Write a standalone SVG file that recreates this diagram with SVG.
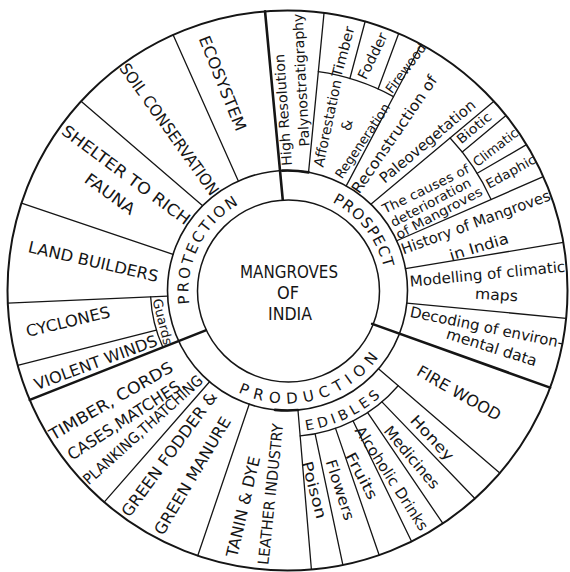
<svg xmlns="http://www.w3.org/2000/svg" width="570" height="572" viewBox="0 0 570 572">
<style>
.ln{stroke:#151515;stroke-width:1.3;fill:none;stroke-linecap:round}
.th{stroke:#151515;stroke-width:2.6;fill:none;stroke-linecap:round}
.c{stroke:#151515;fill:none}
text{font-family:"DejaVu Sans","Liberation Sans",sans-serif;fill:#151515}
.t{text-anchor:middle;dominant-baseline:central}
.r{font-size:15px}
</style>
<defs>
<path id="pPro" d="M 215.09,358.02 A 99 99 0 0 1 299.57,192.24"/>
<path id="pPros" d="M 256.91,196.34 A 99 99 0 0 1 371.45,342.96"/>
<path id="pProd" d="M 195.5,356.12 A 113 113 0 0 0 400.15,299.37"/>
<path id="pEd" d="M 207.13,406.35 A 141 141 0 0 0 428.02,302.17"/>
</defs>
<rect width="570" height="572" fill="#fff"/>
<g id="circles">
<circle class="c" cx="287.5" cy="290.5" r="280" stroke-width="2"/>
<circle class="c" cx="287.5" cy="290.5" r="120" stroke-width="1.6"/>
<circle class="c" cx="288.5" cy="291" r="91" stroke-width="1.5"/>
<path class="th" d="M 282.26,170.61 A 120 120 0 0 1 308.55,172.36"/>
<path class="th" d="M 297.96,410.04 A 120 120 0 0 1 274.96,409.84"/>
</g>
<g id="connectors">
<line class="th" x1="282.74" y1="199.63" x2="265.04" y2="11.4"/>
<line class="th" x1="372.17" y1="323.85" x2="550.1" y2="387.63"/>
<line class="th" x1="205.71" y1="330.39" x2="29.76" y2="399.9"/>
<line class="ln" x1="156.35" y1="330.1" x2="17.7" y2="365.3"/>
<line class="ln" x1="167.63" y1="296.15" x2="7.79" y2="303.2"/>
<line class="ln" x1="173.06" y1="254.42" x2="21.5" y2="203.06"/>
<line class="ln" x1="202.65" y1="205.65" x2="81.06" y2="101.33"/>
<line class="ln" x1="238.31" y1="181.05" x2="173.18" y2="34.92"/>
<path class="ln" d="M 162.88,347.31 A 137 137 0 0 1 150.65,296.9"/>
<line class="ln" x1="308.55" y1="172.36" x2="324.04" y2="12.9"/>
<path class="ln" d="M 318.33,71.7 A 221 221 0 0 1 393.49,96.62"/>
<line class="ln" x1="349.89" y1="78.5" x2="365.14" y2="21.48"/>
<line class="ln" x1="378.09" y1="88.93" x2="398.69" y2="33.52"/>
<line class="ln" x1="346.23" y1="185.85" x2="421.12" y2="44.44"/>
<line class="ln" x1="370.86" y1="204.18" x2="493.94" y2="101.33"/>
<path class="ln" d="M 450.1,137.95 A 223 223 0 0 1 491.1,199.45"/>
<line class="ln" x1="462.27" y1="151.99" x2="506.0" y2="115.44"/>
<line class="ln" x1="477.23" y1="173.31" x2="526.48" y2="144.62"/>
<line class="ln" x1="396.7" y1="240.74" x2="543.28" y2="176.62"/>
<line class="ln" x1="405.5" y1="268.64" x2="563.33" y2="242.37"/>
<line class="ln" x1="406.84" y1="303.04" x2="566.12" y2="318.3"/>
<line class="ln" x1="378.47" y1="368.75" x2="499.77" y2="473.09"/>
<path class="ln" d="M 398.18,385.71 A 146 146 0 0 1 300.15,435.95"/>
<line class="ln" x1="381.93" y1="401.85" x2="474.85" y2="498.57"/>
<line class="ln" x1="367.65" y1="412.53" x2="442.84" y2="523.46"/>
<line class="ln" x1="353.1" y1="420.94" x2="411.57" y2="541.52"/>
<line class="ln" x1="335.52" y1="428.38" x2="379.12" y2="555.07"/>
<line class="ln" x1="315.11" y1="433.87" x2="342.86" y2="564.98"/>
<line class="ln" x1="297.96" y1="410.04" x2="311.41" y2="569.46"/>
<line class="ln" x1="249.22" y1="404.24" x2="197.73" y2="555.72"/>
<line class="ln" x1="209.57" y1="381.75" x2="104.18" y2="502.15"/>
</g>
<g id="center">
<text class="t" x="289" y="272" font-size="17" textLength="98" lengthAdjust="spacingAndGlyphs">MANGROVES</text>
<text class="t" x="288" y="293" font-size="17" textLength="22" lengthAdjust="spacingAndGlyphs">OF</text>
<text class="t" x="290" y="314" font-size="17" textLength="44" lengthAdjust="spacingAndGlyphs">INDIA</text>
</g>
<g id="ring">
<text class="r" letter-spacing="2.3"><textPath href="#pPro" startOffset="50%" text-anchor="middle">PROTECTION</textPath></text>
<text class="r" letter-spacing="1"><textPath href="#pPros" startOffset="50%" text-anchor="middle">PROSPECT</textPath></text>
<text class="r" letter-spacing="6.2"><textPath href="#pProd" startOffset="50%" text-anchor="middle">PRODUCTION</textPath></text>
<text font-size="14" letter-spacing="4"><textPath href="#pEd" startOffset="50%" text-anchor="middle">EDIBLES</textPath></text>
</g>
<g id="protection">
<text class="t" x="222.5" y="83.3" font-size="16" transform="rotate(68 222.5 83.3)" textLength="101" lengthAdjust="spacingAndGlyphs">ECOSYSTEM</text>
<text class="t" x="169.2" y="129.2" font-size="16" transform="rotate(54.4 169.2 129.2)" textLength="158" lengthAdjust="spacingAndGlyphs">SOIL CONSERVATION</text>
<text class="t" x="126" y="175" font-size="16" transform="rotate(36.5 126 175)" textLength="155" lengthAdjust="spacingAndGlyphs">SHELTER TO RICH</text>
<text class="t" x="110" y="194" font-size="16" transform="rotate(36 110 194)" textLength="58" lengthAdjust="spacingAndGlyphs">FAUNA</text>
<text class="t" x="93.3" y="261.7" font-size="16" transform="rotate(13 93.3 261.7)" textLength="133" lengthAdjust="spacingAndGlyphs">LAND BUILDERS</text>
<text class="t" x="68" y="321.7" font-size="16" transform="rotate(-13.5 68 321.7)" textLength="86" lengthAdjust="spacingAndGlyphs">CYCLONES</text>
<text class="t" x="95.8" y="362.5" font-size="16" transform="rotate(-20.3 95.8 362.5)" textLength="130" lengthAdjust="spacingAndGlyphs">VIOLENT WINDS</text>
<text class="t" x="162.5" y="321.7" font-size="13" transform="rotate(76 162.5 321.7)" textLength="47" lengthAdjust="spacingAndGlyphs">Guards</text>
</g>
<g id="production">
<text class="t" x="111" y="401" font-size="16" transform="rotate(-30 111 401)" textLength="140" lengthAdjust="spacingAndGlyphs">TIMBER, CORDS</text>
<text class="t" x="126" y="419" font-size="16" transform="rotate(-33 126 419)" textLength="136" lengthAdjust="spacingAndGlyphs">CASES,MATCHES,</text>
<text class="t" x="143" y="430" font-size="15" transform="rotate(-42 143 430)" textLength="155" lengthAdjust="spacingAndGlyphs">PLANKING,THATCHING</text>
<text class="t" x="169.2" y="454.2" font-size="16" transform="rotate(-54 169.2 454.2)" textLength="150" lengthAdjust="spacingAndGlyphs">GREEN FODDER &amp;</text>
<text class="t" x="192.5" y="475.8" font-size="16" transform="rotate(-59.3 192.5 475.8)" textLength="134" lengthAdjust="spacingAndGlyphs">GREEN MANURE</text>
<text class="t" x="243.3" y="506.7" font-size="16" transform="rotate(-77 243.3 506.7)" textLength="103" lengthAdjust="spacingAndGlyphs">TANIN &amp; DYE</text>
<text class="t" x="270.8" y="494.2" font-size="15" transform="rotate(-84 270.8 494.2)" textLength="142" lengthAdjust="spacingAndGlyphs">LEATHER INDUSTRY</text>
<text class="t" x="459" y="393" font-size="16" transform="rotate(29.7 459 393)" textLength="94" lengthAdjust="spacingAndGlyphs">FIRE WOOD</text>
<text class="t" x="432" y="438" font-size="15" transform="rotate(47 432 438)" textLength="56" lengthAdjust="spacingAndGlyphs">Honey</text>
<text class="t" x="411.7" y="457.5" font-size="15" transform="rotate(50 411.7 457.5)" textLength="77" lengthAdjust="spacingAndGlyphs">Medicines</text>
<text class="t" x="391.5" y="478.5" font-size="15" transform="rotate(57 391.5 478.5)" textLength="121" lengthAdjust="spacingAndGlyphs">Alcoholic Drinks</text>
<text class="t" x="361.5" y="476" font-size="15" transform="rotate(62 361.5 476)" textLength="51" lengthAdjust="spacingAndGlyphs">Fruits</text>
<text class="t" x="340" y="490" font-size="15" transform="rotate(72 340 490)" textLength="63" lengthAdjust="spacingAndGlyphs">Flowers</text>
<text class="t" x="314" y="490" font-size="15" transform="rotate(75 314 490)" textLength="59" lengthAdjust="spacingAndGlyphs">Poison</text>
</g>
<g id="prospect">
<text class="t" x="283" y="110" font-size="14" transform="rotate(-94 283 110)" textLength="112" lengthAdjust="spacingAndGlyphs">High Resolution</text>
<text class="t" x="301" y="80" font-size="14" transform="rotate(-93 301 80)" textLength="133" lengthAdjust="spacingAndGlyphs">Palynostratigraphy</text>
<text class="t" x="327.5" y="123.3" font-size="14" transform="rotate(-78 327.5 123.3)" textLength="89" lengthAdjust="spacingAndGlyphs">Afforestation</text>
<text class="t" x="346.7" y="125" font-size="14" transform="rotate(-78 346.7 125)">&amp;</text>
<text class="t" x="362.5" y="140.8" font-size="13" transform="rotate(-56 362.5 140.8)" textLength="87" lengthAdjust="spacingAndGlyphs">Regeneration</text>
<text class="t" x="343" y="51.7" font-size="14" transform="rotate(-75 343 51.7)" textLength="52" lengthAdjust="spacingAndGlyphs">Timber</text>
<text class="t" x="372.5" y="55.8" font-size="14" transform="rotate(-64 372.5 55.8)" textLength="50" lengthAdjust="spacingAndGlyphs">Fodder</text>
<text class="t" x="405.8" y="68.3" font-size="13" transform="rotate(-53 405.8 68.3)" textLength="58" lengthAdjust="spacingAndGlyphs">Firewood</text>
<text class="t" x="394.5" y="134.4" font-size="15" transform="rotate(-55.5 394.5 134.4)" textLength="139" lengthAdjust="spacingAndGlyphs">Reconstruction of</text>
<text class="t" x="427.5" y="141.5" font-size="15" transform="rotate(-40 427.5 141.5)" textLength="120" lengthAdjust="spacingAndGlyphs">Paleovegetation</text>
<text class="t" x="425.8" y="189" font-size="13" transform="rotate(-26 425.8 189)" textLength="95" lengthAdjust="spacingAndGlyphs">The causes of</text>
<text class="t" x="430.8" y="202.5" font-size="13" transform="rotate(-28 430.8 202.5)" textLength="89" lengthAdjust="spacingAndGlyphs">deterioration</text>
<text class="t" x="439" y="213" font-size="13" transform="rotate(-28 439 213)" textLength="96" lengthAdjust="spacingAndGlyphs">of Mangroves</text>
<text class="t" x="474" y="128" font-size="13" transform="rotate(-40 474 128)" textLength="41" lengthAdjust="spacingAndGlyphs">Biotic</text>
<text class="t" x="495.5" y="147.5" font-size="13" transform="rotate(-37.6 495.5 147.5)" textLength="53" lengthAdjust="spacingAndGlyphs">Climatic</text>
<text class="t" x="510.8" y="171.7" font-size="13" transform="rotate(-29 510.8 171.7)" textLength="55" lengthAdjust="spacingAndGlyphs">Edaphic</text>
<text class="t" x="475.8" y="222.5" font-size="15" transform="rotate(-20.3 475.8 222.5)" textLength="158" lengthAdjust="spacingAndGlyphs">History of Mangroves</text>
<text class="t" x="479" y="247" font-size="15" transform="rotate(-17 479 247)" textLength="61" lengthAdjust="spacingAndGlyphs">in India</text>
<text class="t" x="487.5" y="274.2" font-size="15" transform="rotate(-5.5 487.5 274.2)" textLength="156" lengthAdjust="spacingAndGlyphs">Modelling of climatic</text>
<text class="t" x="496.5" y="295" font-size="15" transform="rotate(3 496.5 295)" textLength="43" lengthAdjust="spacingAndGlyphs">maps</text>
<text class="t" x="486.7" y="327.5" font-size="15" transform="rotate(11.6 486.7 327.5)" textLength="156" lengthAdjust="spacingAndGlyphs">Decoding of environ-</text>
<text class="t" x="491.7" y="347.5" font-size="15" transform="rotate(17.5 491.7 347.5)" textLength="94" lengthAdjust="spacingAndGlyphs">mental data</text>
</g>
</svg>
